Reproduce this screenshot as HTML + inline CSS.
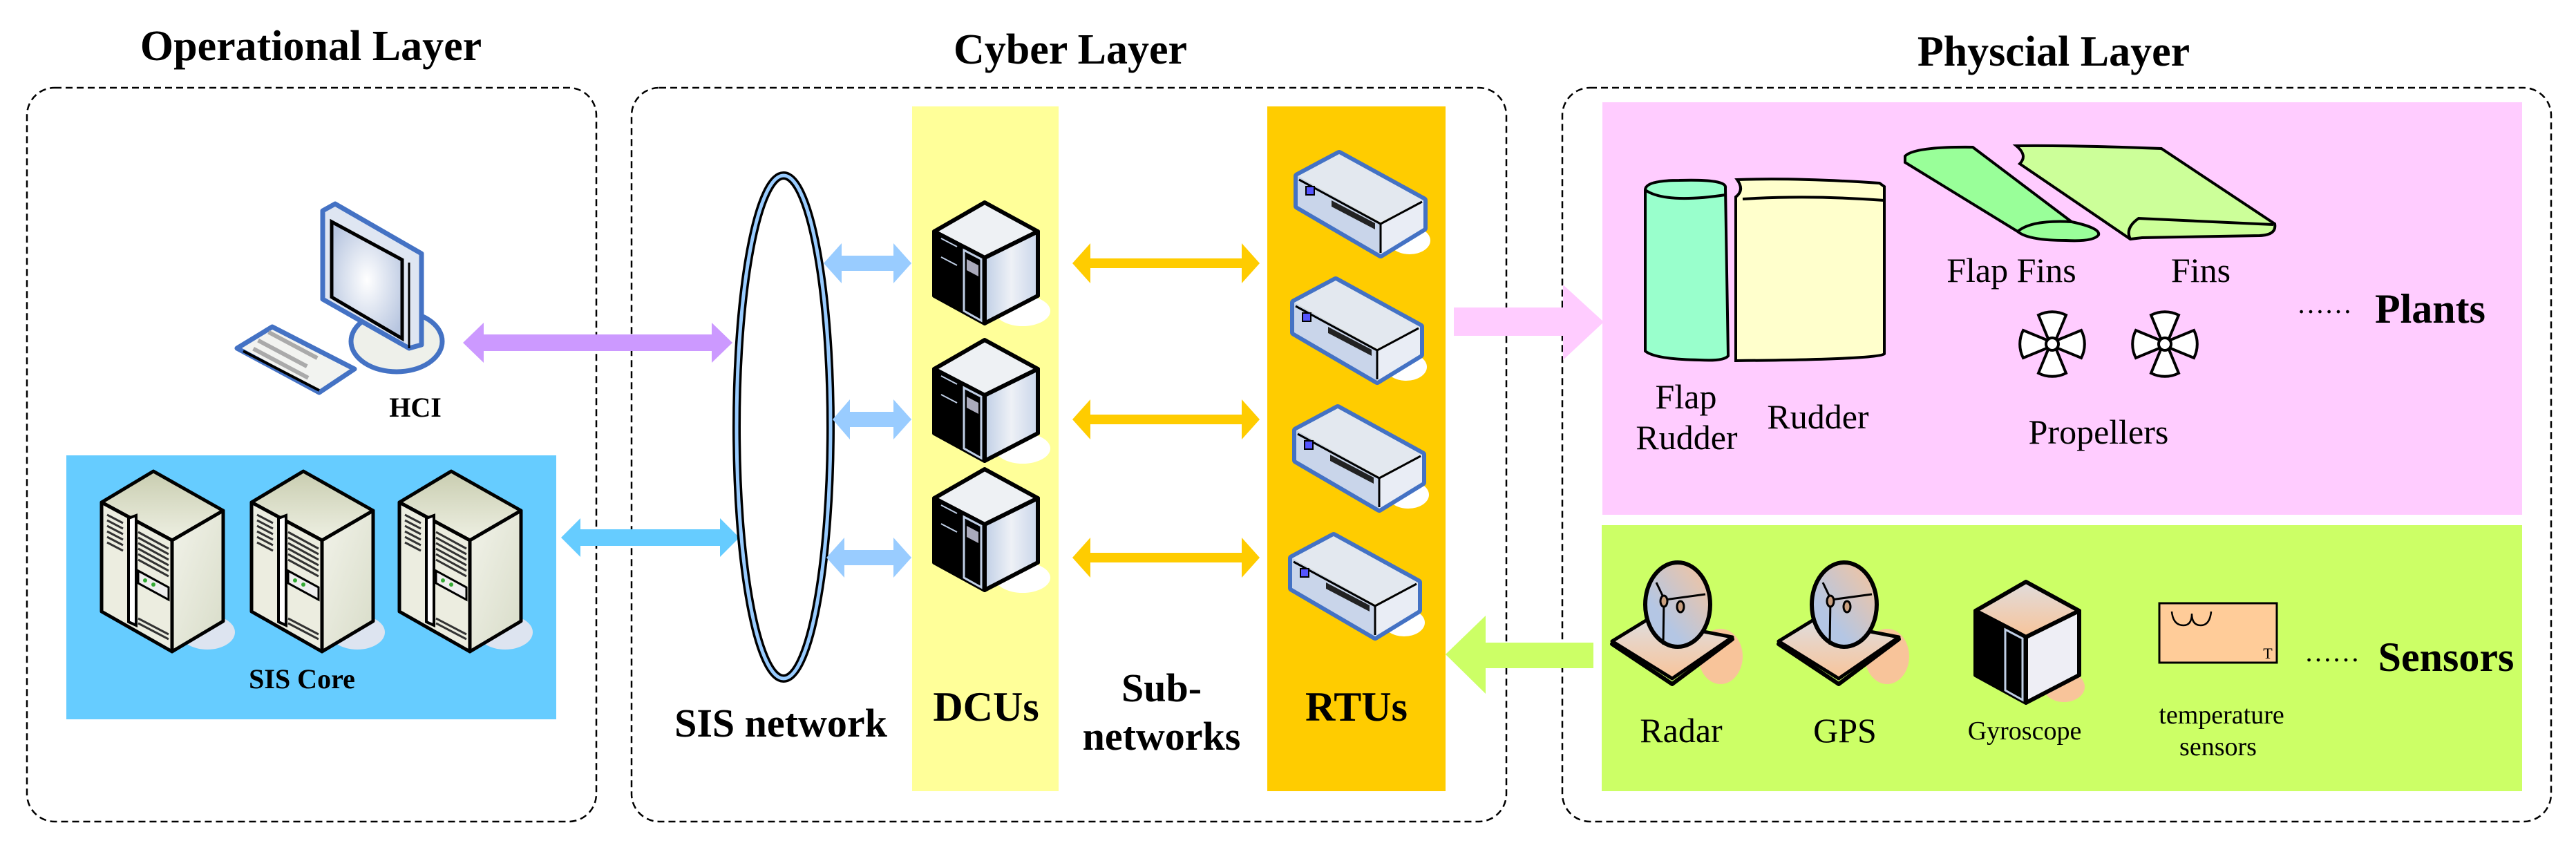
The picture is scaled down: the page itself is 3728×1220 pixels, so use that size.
<!DOCTYPE html>
<html><head><meta charset="utf-8"><style>
html,body{margin:0;padding:0;background:#fff;}
svg{display:block;}
svg, svg text{font-family:"Liberation Serif","Times New Roman",Times,serif !important;}
</style></head><body>
<svg width="3728" height="1220" viewBox="0 0 3728 1220" xmlns="http://www.w3.org/2000/svg" font-family="Liberation Serif, Times New Roman, serif">
<defs>
<linearGradient id="srv" x1="0" y1="0" x2="1" y2="1"><stop offset="0" stop-color="#f2f3ea"/><stop offset="1" stop-color="#d8dcc8"/></linearGradient>
<linearGradient id="top" x1="0" y1="0" x2="0" y2="1"><stop offset="0" stop-color="#c9cdb0"/><stop offset="1" stop-color="#eef0e3"/></linearGradient>
<linearGradient id="bl" x1="0" y1="0" x2="1" y2="0"><stop offset="0" stop-color="#c0cfe6"/><stop offset="0.5" stop-color="#eef1f6"/><stop offset="1" stop-color="#c9d5ea"/></linearGradient>
<linearGradient id="dish" x1="0" y1="1" x2="1" y2="0"><stop offset="0.3" stop-color="#b4c6e4"/><stop offset="1" stop-color="#f8c49a"/></linearGradient>
<linearGradient id="base" x1="0" y1="0" x2="0" y2="1"><stop offset="0" stop-color="#e0dcdc"/><stop offset="1" stop-color="#f8c49a"/></linearGradient>
<radialGradient id="scr" cx="0.5" cy="0.5" r="0.6"><stop offset="0" stop-color="#ffffff"/><stop offset="1" stop-color="#b8c6e0"/></radialGradient>

<g id="tower">
  <ellipse cx="300" cy="915" rx="40" ry="25" fill="#dde4f0"/>
  <polygon points="147,727 222,682 323,739 249,782" fill="url(#top)" stroke="#000" stroke-width="5" stroke-linejoin="round"/>
  <polygon points="249,782 323,739 323,899 249,943" fill="url(#srv)" stroke="#000" stroke-width="5" stroke-linejoin="round"/>
  <polygon points="147,727 249,782 249,943 147,885" fill="#ecede0" stroke="#000" stroke-width="5" stroke-linejoin="round"/>
  <polygon points="186,750 197,746 197,905 186,900" fill="#fff" stroke="#000" stroke-width="4"/>
  <g stroke="#333" stroke-width="3">
    <line x1="155" y1="745" x2="178" y2="757"/><line x1="155" y1="753" x2="178" y2="765"/><line x1="155" y1="761" x2="178" y2="773"/><line x1="155" y1="769" x2="178" y2="781"/><line x1="155" y1="777" x2="178" y2="789"/><line x1="155" y1="785" x2="178" y2="797"/>
    <line x1="200" y1="770" x2="244" y2="794"/><line x1="200" y1="778" x2="244" y2="802"/><line x1="200" y1="786" x2="244" y2="810"/><line x1="200" y1="794" x2="244" y2="818"/><line x1="200" y1="802" x2="244" y2="826"/><line x1="200" y1="810" x2="244" y2="834"/>
    <line x1="200" y1="895" x2="244" y2="918"/><line x1="200" y1="902" x2="244" y2="925"/>
  </g>
  <polygon points="200,826 244,850 244,868 200,844" fill="#eee" stroke="#000" stroke-width="3"/>
  <circle cx="210" cy="840" r="3" fill="#3a3"/><circle cx="222" cy="846" r="3" fill="#3a3"/>
</g>

<g id="cube">
  <ellipse cx="1480" cy="450" rx="40" ry="22" fill="#fff"/>
  <polygon points="1352,335 1425,293 1502,335 1425,373" fill="#eef1f4" stroke="#000" stroke-width="6" stroke-linejoin="round"/>
  <polygon points="1425,373 1502,335 1502,428 1425,468" fill="url(#bl)" stroke="#000" stroke-width="6" stroke-linejoin="round"/>
  <polygon points="1352,335 1425,373 1425,468 1352,428" fill="#000" stroke="#000" stroke-width="6" stroke-linejoin="round"/>
  <line x1="1362" y1="345" x2="1385" y2="357" stroke="#c0cfe6" stroke-width="2"/>
  <line x1="1362" y1="372" x2="1385" y2="384" stroke="#c0cfe6" stroke-width="2"/>
  <polygon points="1395,362 1420,375 1420,464 1395,450" fill="#000" stroke="#c0cfe6" stroke-width="3"/>
  <polygon points="1399,375 1416,384 1416,400 1399,391" fill="#aab"/>
</g>

<g id="rtu">
  <ellipse cx="2040" cy="348" rx="30" ry="20" fill="#fff"/>
  <polygon points="1878,255 1938,223 2060,290 2060,330 1998,368 1878,298" fill="none" stroke="#4472c4" stroke-width="12" stroke-linejoin="round"/>
  <polygon points="1878,255 1938,223 2060,290 1998,322" fill="#e3e8ef"/>
  <polygon points="1998,322 2060,290 2060,330 1998,368" fill="#e9edf5"/>
  <polygon points="1878,255 1998,322 1998,368 1878,298" fill="#c9d5ea"/>
  <polyline points="1880,260 1998,324 2058,292" fill="none" stroke="#000" stroke-width="3"/>
  <line x1="1998" y1="324" x2="1998" y2="366" stroke="#000" stroke-width="3"/>
  <rect x="1890" y="270" width="12" height="12" fill="#55f" stroke="#000" stroke-width="2"/>
  <polygon points="1927,290 1990,323 1990,332 1927,299" fill="#222"/>
</g>

<g id="dishg">
  <ellipse cx="2490" cy="950" rx="32" ry="40" fill="#f8c49a"/>
  <polygon points="2333,932 2382,900 2507,925 2420,990" fill="none" stroke="#000" stroke-width="6" stroke-linejoin="round"/>
  <polygon points="2333,928 2382,898 2507,922 2420,982" fill="url(#base)" stroke="#000" stroke-width="5" stroke-linejoin="round"/>
  <ellipse cx="2428" cy="875" rx="47" ry="61" fill="url(#dish)" stroke="#000" stroke-width="6"/>
  <polyline points="2397,843 2409,868 2468,860" fill="none" stroke="#000" stroke-width="3"/>
  <line x1="2408" y1="868" x2="2407" y2="933" stroke="#000" stroke-width="3"/>
  <ellipse cx="2408" cy="870" rx="5" ry="8" fill="#c9a080" stroke="#000" stroke-width="3"/>
  <ellipse cx="2432" cy="878" rx="5" ry="8" fill="#c9a080" stroke="#000" stroke-width="3"/>
</g>

<g id="prop">
  <path d="M-6,-8 L-20,-42 A44,44 0 0 1 20,-42 L6,-8 Z" fill="#fff" stroke="#000" stroke-width="4"/>
  <path d="M-6,-8 L-20,-42 A44,44 0 0 1 20,-42 L6,-8 Z" transform="rotate(90)" fill="#fff" stroke="#000" stroke-width="4"/>
  <path d="M-6,-8 L-20,-42 A44,44 0 0 1 20,-42 L6,-8 Z" transform="rotate(180)" fill="#fff" stroke="#000" stroke-width="4"/>
  <path d="M-6,-8 L-20,-42 A44,44 0 0 1 20,-42 L6,-8 Z" transform="rotate(270)" fill="#fff" stroke="#000" stroke-width="4"/>
  <circle r="9" fill="#fff" stroke="#000" stroke-width="4"/>
</g>
</defs>

<rect x="39" y="127" width="824" height="1062" rx="40" fill="none" stroke="#000" stroke-width="2.5" stroke-dasharray="10 6"/>
<rect x="914" y="127" width="1266" height="1062" rx="40" fill="none" stroke="#000" stroke-width="2.5" stroke-dasharray="10 6"/>
<rect x="2261" y="127" width="1431" height="1062" rx="40" fill="none" stroke="#000" stroke-width="2.5" stroke-dasharray="10 6"/>

<text x="450" y="87" font-size="62" font-weight="bold" text-anchor="middle">Operational Layer</text>
<text x="1549" y="92" font-size="62" font-weight="bold" text-anchor="middle">Cyber Layer</text>
<text x="2972" y="95" font-size="62" font-weight="bold" text-anchor="middle">Physcial Layer</text>

<rect x="96" y="659" width="709" height="382" fill="#66ccff"/>
<use href="#tower"/>
<use href="#tower" transform="translate(217,0)"/>
<use href="#tower" transform="translate(431,0)"/>
<text x="437" y="996" font-size="40" font-weight="bold" text-anchor="middle">SIS Core</text>

<ellipse cx="574" cy="494" rx="66" ry="44" fill="#eef0ea" stroke="#4472c4" stroke-width="7"/>
<polygon points="467,305 485,295 610,367 610,499 592,504 467,433" fill="#dfe6f2" stroke="#4472c4" stroke-width="7" stroke-linejoin="round"/>
<polygon points="480,321 582,376 582,490 480,430" fill="url(#scr)" stroke="#000" stroke-width="5"/>
<line x1="592" y1="380" x2="592" y2="504" stroke="#000" stroke-width="3"/>
<polygon points="343,504 394,473 513,534 462,568" fill="#f2f3f0" stroke="#4472c4" stroke-width="7" stroke-linejoin="round"/>
<line x1="352" y1="508" x2="462" y2="565" stroke="#000" stroke-width="4"/>
<g fill="#aaa">
<rect x="375" y="490" width="80" height="6" transform="rotate(28 375 490)"/>
<rect x="368" y="502" width="90" height="6" transform="rotate(28 368 502)"/>
<rect x="390" y="478" width="80" height="6" transform="rotate(28 390 478)"/>
</g>
<text x="601" y="603" font-size="40" font-weight="bold" text-anchor="middle">HCI</text>

<polygon points="670,496 700,467 700,484 1030,484 1030,467 1060,496 1030,525 1030,508 700,508 700,525" fill="#cc99ff"/>
<polygon points="812,778 840,750 840,766 1042,766 1042,750 1070,778 1042,806 1042,790 840,790 840,806" fill="#66ccff"/>

<ellipse cx="1134" cy="618" rx="68" ry="364" fill="none" stroke="#000" stroke-width="12"/>
<ellipse cx="1134" cy="618" rx="68" ry="364" fill="none" stroke="#99ccff" stroke-width="5"/>
<text x="1130" y="1066" font-size="58" font-weight="bold" text-anchor="middle">SIS network</text>

<rect x="1320" y="154" width="212" height="991" fill="#ffff99"/>
<rect x="1834" y="154" width="258" height="991" fill="#ffcc00"/>
<use href="#cube"/>
<use href="#cube" transform="translate(0,199)"/>
<use href="#cube" transform="translate(0,386)"/>
<text x="1427" y="1043" font-size="60" font-weight="bold" text-anchor="middle">DCUs</text>
<text x="1681" y="1015" font-size="58" font-weight="bold" text-anchor="middle">Sub-</text>
<text x="1681" y="1085" font-size="58" font-weight="bold" text-anchor="middle">networks</text>
<text x="1963" y="1043" font-size="60" font-weight="bold" text-anchor="middle">RTUs</text>

<g fill="#99ccff">
<polygon points="1192,381 1218,352 1218,370 1293,370 1293,352 1319,381 1293,410 1293,392 1218,392 1218,410"/>
<polygon points="1205,607 1230,578 1230,596 1293,596 1293,578 1319,607 1293,636 1293,618 1230,618 1230,636"/>
<polygon points="1196,807 1222,778 1222,796 1293,796 1293,778 1319,807 1293,836 1293,818 1222,818 1222,836"/>
</g>
<g fill="#ffcc00">
<polygon points="1552,381 1578,352 1578,374 1797,374 1797,352 1823,381 1797,410 1797,388 1578,388 1578,410"/>
<polygon points="1552,607 1578,578 1578,600 1797,600 1797,578 1823,607 1797,636 1797,614 1578,614 1578,636"/>
<polygon points="1552,807 1578,778 1578,800 1797,800 1797,778 1823,807 1797,836 1797,814 1578,814 1578,836"/>
</g>

<use href="#rtu"/>
<use href="#rtu" transform="translate(-5,183)"/>
<use href="#rtu" transform="translate(-2,368)"/>
<use href="#rtu" transform="translate(-8,553)"/>

<rect x="2319" y="148" width="1331" height="597" fill="#ffccff"/>
<rect x="2318" y="760" width="1332" height="385" fill="#ccff66"/>

<polygon points="2104,445 2262,445 2262,412 2321,466 2262,521 2262,486 2104,486" fill="#ffccff"/>
<polygon points="2306,930 2150,930 2150,891 2092,947 2150,1004 2150,967 2306,967" fill="#ccff66"/>

<path d="M2381,275 Q2381,261 2430,261 Q2500,259 2497,272 L2501,515 Q2495,523 2460,521 Q2395,520 2381,508 Z" fill="#99ffcc" stroke="#000" stroke-width="4"/>
<path d="M2381,275 Q2410,295 2497,282" fill="none" stroke="#000" stroke-width="4"/>
<path d="M2514,260 Q2600,257 2720,265 L2727,270 L2727,512 Q2720,520 2512,522 L2512,285 Q2525,275 2514,260 Z" fill="#ffffcc" stroke="#000" stroke-width="4"/>
<path d="M2522,288 Q2620,282 2727,290" fill="none" stroke="#000" stroke-width="4"/>
<path d="M2757,226 Q2770,212 2855,213 L2998,321 Q3040,330 3037,340 Q3030,350 2990,348 Q2935,348 2920,335 L2757,235 Z" fill="#99ff99" stroke="#000" stroke-width="4"/>
<path d="M2920,335 Q2940,318 2998,321" fill="none" stroke="#000" stroke-width="4"/>
<path d="M2918,211 Q3000,210 3128,215 L3292,324 Q3295,340 3270,341 L3100,344 L3083,346 L2923,237 Q2935,225 2918,211 Z" fill="#ccff99" stroke="#000" stroke-width="4"/>
<path d="M3083,346 Q3075,330 3095,316 L3290,325" fill="none" stroke="#000" stroke-width="4"/>

<g font-size="50">
<text x="2440" y="591" text-anchor="middle">Flap</text>
<text x="2441" y="650" text-anchor="middle">Rudder</text>
<text x="2631" y="620" text-anchor="middle">Rudder</text>
<text x="2911" y="408" text-anchor="middle">Flap Fins</text>
<text x="3185" y="408" text-anchor="middle">Fins</text>
<text x="3037" y="642" text-anchor="middle">Propellers</text>
</g>
<use href="#prop" transform="translate(2970,498)"/>
<use href="#prop" transform="translate(3133,498)"/>
<text x="3324" y="453" font-size="40">……</text>
<text x="3517" y="467" font-size="60" font-weight="bold" text-anchor="middle">Plants</text>

<use href="#dishg"/>
<use href="#dishg" transform="translate(241,0)"/>
<g transform="translate(1507,549)">
  <ellipse cx="1480" cy="445" rx="30" ry="22" fill="#f8c49a"/>
  <polygon points="1352,335 1425,293 1502,335 1425,373" fill="url(#base)" stroke="#000" stroke-width="6" stroke-linejoin="round"/>
  <polygon points="1425,373 1502,335 1502,428 1425,468" fill="#eeeef5" stroke="#000" stroke-width="6" stroke-linejoin="round"/>
  <polygon points="1352,335 1425,373 1425,468 1352,428" fill="#000" stroke="#000" stroke-width="6" stroke-linejoin="round"/>
  <polygon points="1395,362 1420,375 1420,464 1395,450" fill="#000" stroke="#c0cfe6" stroke-width="3"/>
</g>
<rect x="3125" y="873" width="170" height="86" fill="#ffcc99" stroke="#000" stroke-width="3"/>
<path d="M3143,885 Q3145,905 3160,905 Q3172,905 3172,888 Q3172,905 3185,905 Q3198,905 3200,885" fill="none" stroke="#000" stroke-width="2.5"/>
<text x="3282" y="953" font-size="22" text-anchor="middle">T</text>

<g font-size="50">
<text x="2433" y="1074" text-anchor="middle">Radar</text>
<text x="2670" y="1074" text-anchor="middle">GPS</text>
</g>
<text x="2930" y="1070" font-size="38" text-anchor="middle">Gyroscope</text>
<text x="3215" y="1047" font-size="38" text-anchor="middle">temperature</text>
<text x="3210" y="1093" font-size="38" text-anchor="middle">sensors</text>
<text x="3335" y="957" font-size="40">……</text>
<text x="3540" y="971" font-size="60" font-weight="bold" text-anchor="middle">Sensors</text>
</svg>
</body></html>
